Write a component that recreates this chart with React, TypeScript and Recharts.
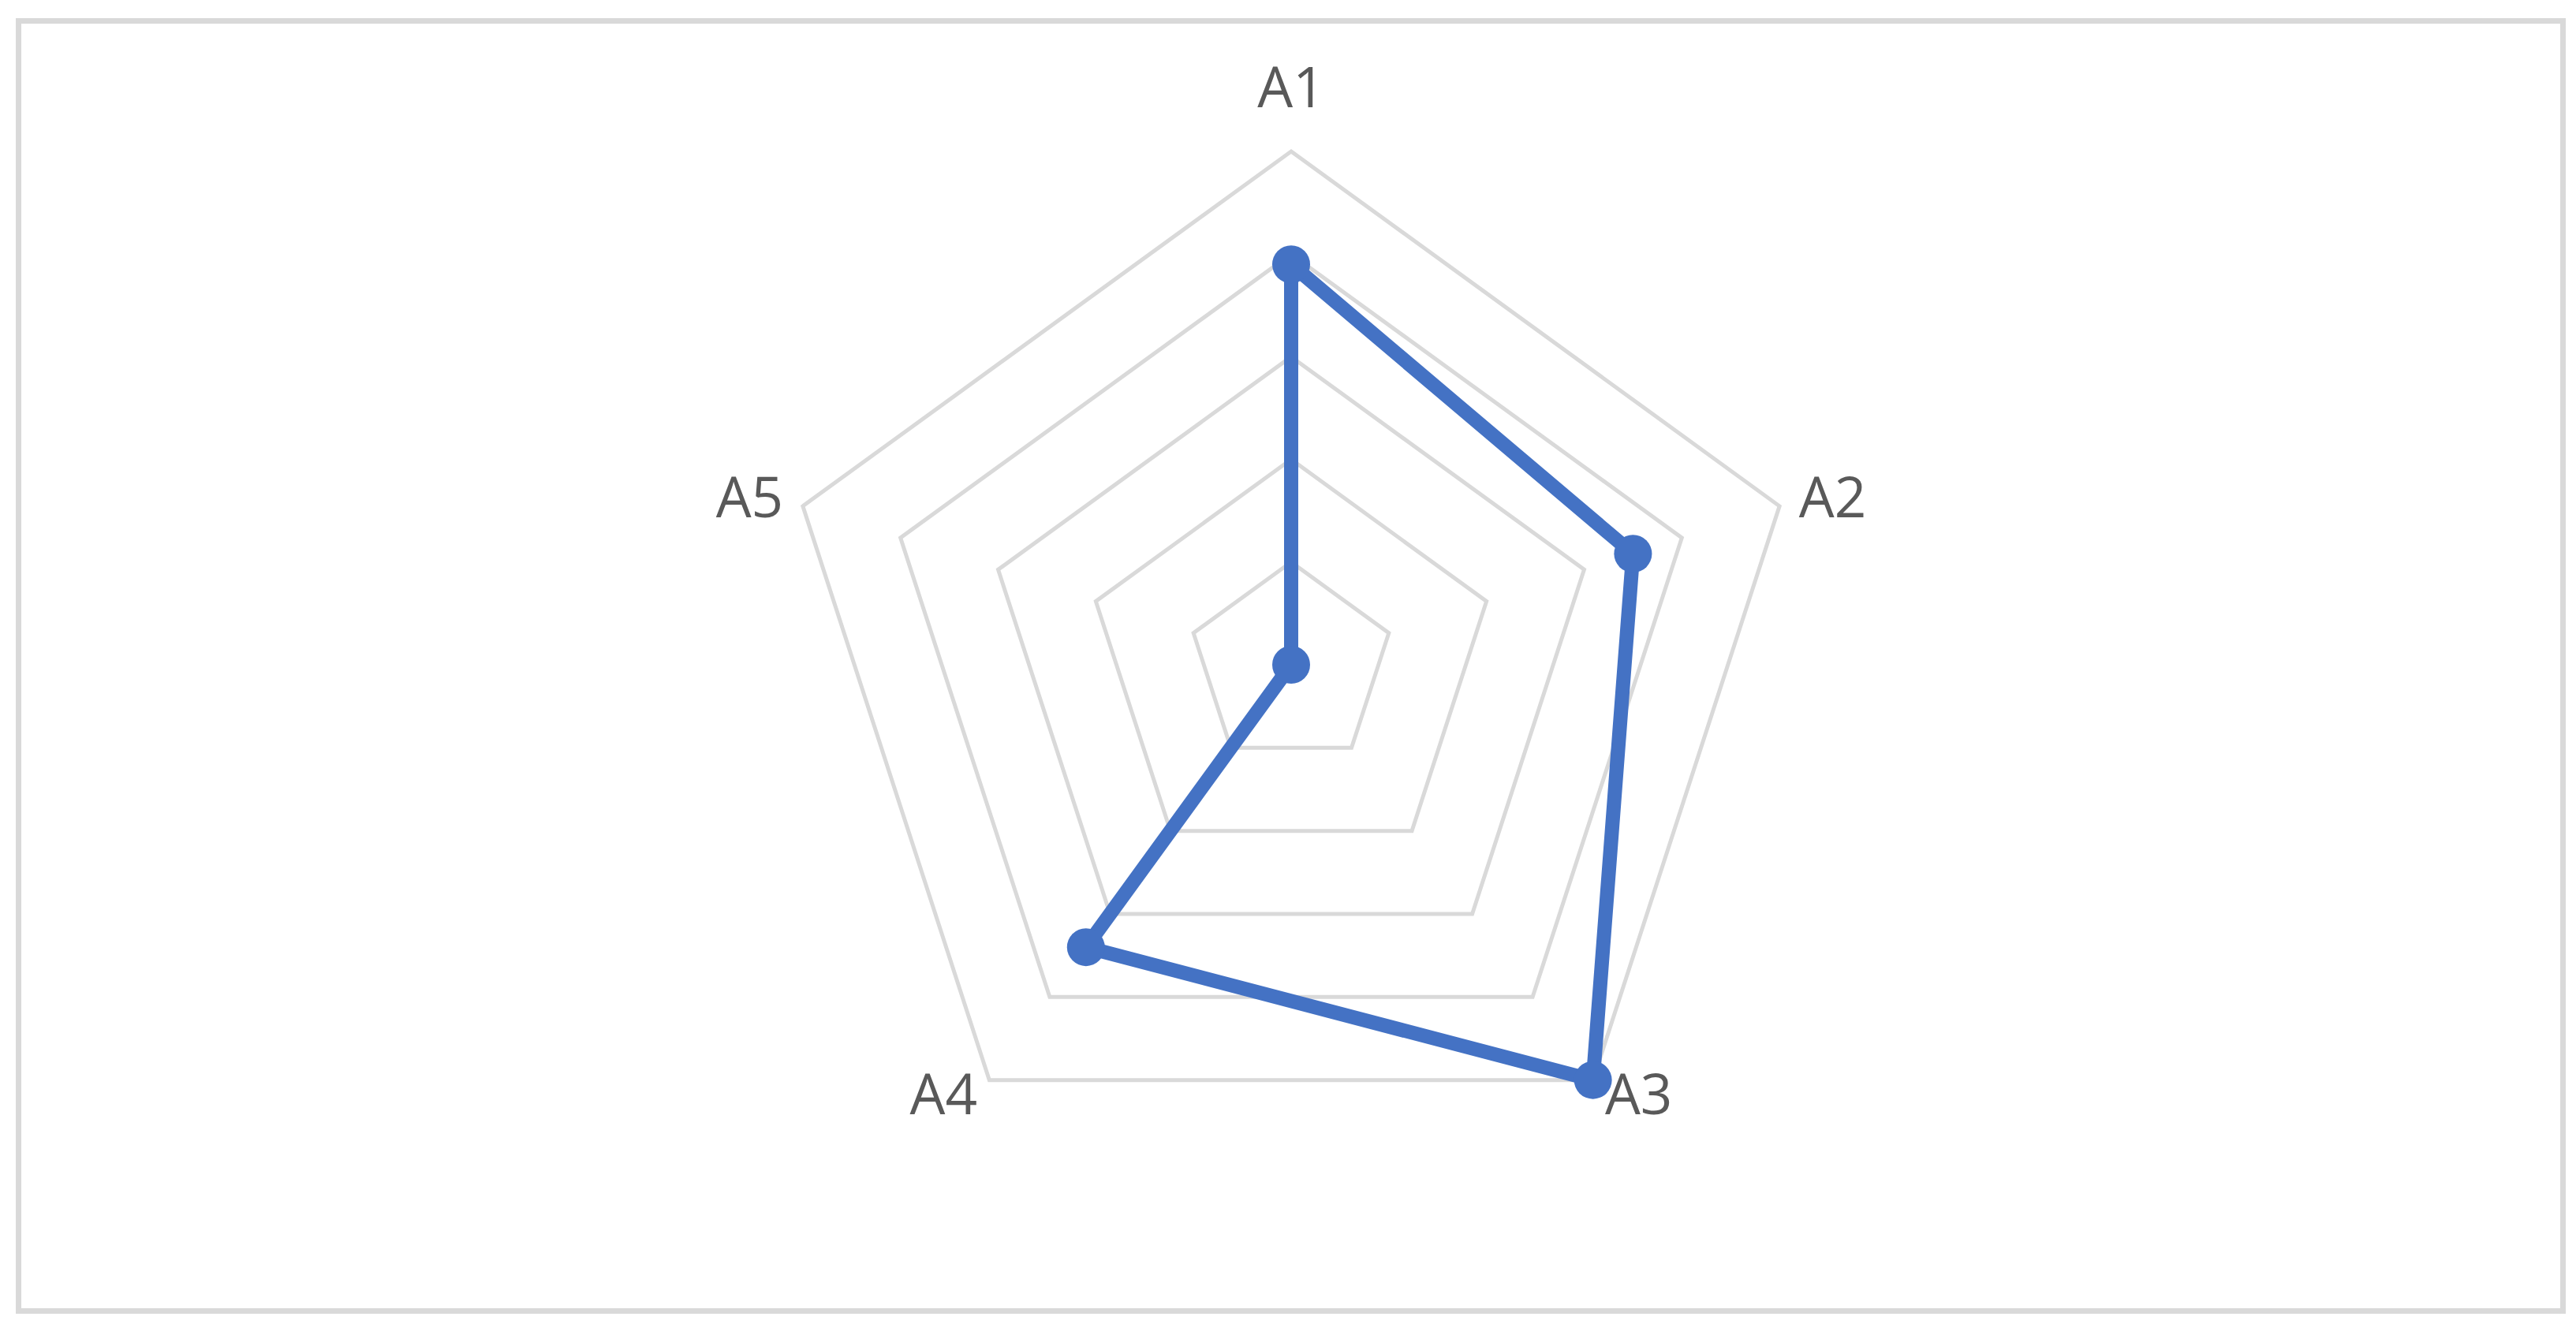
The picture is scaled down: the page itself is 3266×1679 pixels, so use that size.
import React from 'react';
import {
  RadarChart,
  Radar,
  PolarGrid,
  PolarAngleAxis,
  PolarRadiusAxis,
} from 'recharts';

const categories = ['A1', 'A2', 'A3', 'A4', 'A5'];
const values = [3.9, 3.5, 5, 3.4, 0];
const radiusTicks = [0, 1, 2, 3, 4, 5];

const data = categories.map((name, i) => ({ name, value: values[i] }));

const BLUE = '#4472c4';

const AngleTick = (props: any) => {
  const { x, y, cx, cy, radius, payload } = props;
  const dist = Math.hypot(x - cx, y - cy) || 1;
  const ux = (x - cx) / dist;
  const uy = (y - cy) / dist;
  const r = typeof radius === 'number' ? radius : dist - 8;
  const vx = cx + ux * r;
  const vy = cy + uy * r;

  let anchor: 'start' | 'middle' | 'end' = 'middle';
  let tx = vx;
  let ty = vy - 56;
  if (Math.abs(ux) > 1e-3) {
    anchor = ux > 0 ? 'start' : 'end';
    tx = vx + ux * 26;
    ty = vy + 22 + 26 * uy;
  }
  return (
    <text
      x={tx}
      y={ty}
      textAnchor={anchor}
      fill="#595959"
      style={{ fontSize: 71, fontFamily: "'Open Sans', 'Noto Sans', sans-serif" }}
    >
      {payload.value}
    </text>
  );
};

// series outline, drawn from the points recharts computes
const RadarShape = (props: any) => {
  const pts: any[] = props.points || [];
  if (!pts.length) return null;
  const d = pts.map((p, i) => `${i ? 'L' : 'M'}${p.x},${p.y}`).join(' ') + ' Z';
  return (
    <path
      d={d}
      fill="none"
      stroke={BLUE}
      strokeWidth={18}
      strokeLinejoin="miter"
    />
  );
};

const RadarDot = (props: any) => (
  <circle key={`dot-${props.index}`} cx={props.cx} cy={props.cy} r={24} fill={BLUE} />
);

const css = `
.recharts-polar-grid-concentric-polygon { stroke: #d9d9d9; stroke-width: 5px; }
`;

export default function App() {
  return (
    <div>
      <style>{css}</style>
      <div
        style={{
          position: 'absolute',
          left: 20,
          top: 23,
          width: 3233,
          height: 1643,
          border: '7px solid #d9d9d9',
          boxSizing: 'border-box',
          background: '#fff',
        }}
      />
      <div style={{ position: 'absolute', left: 0, top: 0 }}>
        <RadarChart
          width={3266}
          height={1679}
          data={data}
          cx={1637}
          cy={843}
          outerRadius={651}
          margin={{ top: 0, right: 0, bottom: 0, left: 0 }}
        >
          <PolarGrid
            gridType="polygon"
            radialLines={false}
            stroke="#d9d9d9"
            strokeWidth={5}
          />
          <PolarAngleAxis
            dataKey="name"
            axisLine={false}
            tickLine={false}
            tick={<AngleTick />}
          />
          <PolarRadiusAxis
            domain={[0, 5]}
            ticks={radiusTicks as any}
            tickCount={6}
            tick={false}
            axisLine={false}
          />
          <Radar
            dataKey="value"
            stroke={BLUE}
            strokeWidth={18}
            fill="none"
            fillOpacity={0}
            shape={<RadarShape />}
            dot={RadarDot}
            isAnimationActive={false}
          />
        </RadarChart>
      </div>
    </div>
  );
}
